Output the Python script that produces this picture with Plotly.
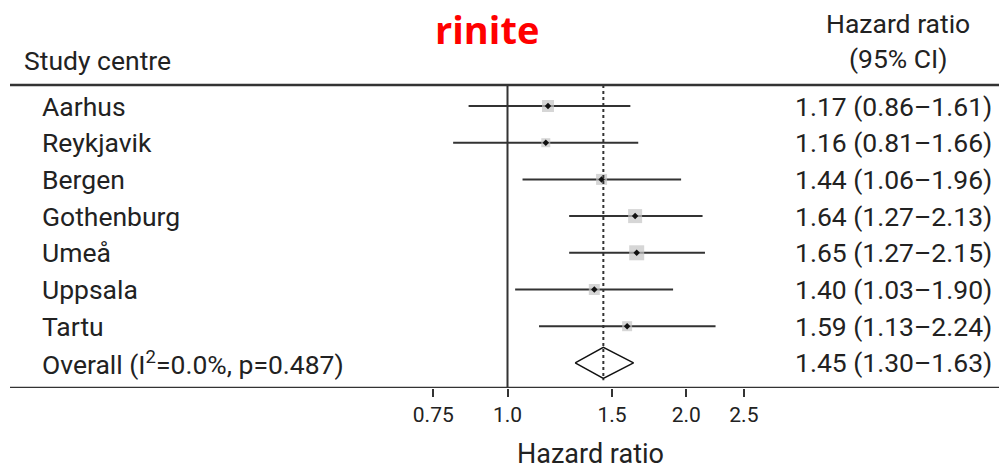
import plotly.graph_objects as go
import math

# ---- data ----
centres = ["Aarhus", "Reykjavik", "Bergen", "Gothenburg", "Umeå", "Uppsala", "Tartu"]
hr = [1.17, 1.16, 1.44, 1.64, 1.65, 1.40, 1.59]
lo = [0.86, 0.81, 1.06, 1.27, 1.27, 1.03, 1.13]
hi = [1.61, 1.66, 1.96, 2.13, 2.15, 1.90, 2.24]
weights = [12, 9, 11, 14, 15, 11, 10]  # relative study weights (box size)
overall_label = "Overall (I<sup>2</sup>=0.0%, p=0.487)"
overall = [1.45, 1.30, 1.63]
tick_vals = [0.75, 1.0, 1.5, 2.0, 2.5]
tick_text = ["0.75", "1.0", "1.5", "2.0", "2.5"]

W, H = 999, 472
PLOT_BOTTOM = 388  # px where the x axis sits
ROW0_PX, ROW_STEP = 106, 36.7
PX_PER_DECADE = 594.0
X_ONE_PX = 507.5

def px_to_row(py):
    return (py - ROW0_PX) / ROW_STEP

def px_to_paper_y(py):
    return 1 - py / PLOT_BOTTOM

n = len(centres)
rows = list(range(n))
ov_row = n

x_range = [-X_ONE_PX / PX_PER_DECADE, (W - X_ONE_PX) / PX_PER_DECADE]
y_range = [px_to_row(PLOT_BOTTOM), px_to_row(0)]

line_col = "#333333"
FONT = "Roboto"

fig = go.Figure()

# CI lines
cx, cy = [], []
for i in rows:
    cx += [lo[i], hi[i], None]
    cy += [i, i, None]
fig.add_trace(go.Scatter(x=cx, y=cy, mode="lines", line=dict(color=line_col, width=2),
                         hoverinfo="skip", showlegend=False))
# weighted boxes
fig.add_trace(go.Scatter(x=hr, y=rows, mode="markers",
                         marker=dict(symbol="square", size=weights, color="#c4c4c4",
                                     line=dict(width=0)),
                         showlegend=False))
# point estimates
fig.add_trace(go.Scatter(x=hr, y=rows, mode="markers",
                         marker=dict(symbol="diamond", size=5, color="#111111"),
                         showlegend=False))

# overall diamond
half = 15.5 / ROW_STEP
fig.add_trace(go.Scatter(x=[overall[1], overall[0], overall[2], overall[0], overall[1]],
                         y=[ov_row, ov_row - half, ov_row, ov_row + half, ov_row],
                         mode="lines", fill="toself", fillcolor="white",
                         line=dict(color="#111111", width=1.5), showlegend=False))

# reference lines
top_row = px_to_row(85)
fig.add_shape(type="line", xref="x", yref="y", x0=1.0, x1=1.0, y0=top_row, y1=px_to_row(PLOT_BOTTOM),
              line=dict(color=line_col, width=2))
fig.add_shape(type="line", xref="x", yref="y", x0=overall[0], x1=overall[0], y0=top_row,
              y1=ov_row + half + 0.05, line=dict(color=line_col, width=2, dash="3px,3px"))
fig.add_shape(type="line", xref="paper", yref="y", x0=10 / W, x1=1, y0=top_row, y1=top_row,
              line=dict(color=line_col, width=2.5))
fig.add_shape(type="line", xref="paper", yref="y", x0=10 / W, x1=1,
              y0=px_to_row(PLOT_BOTTOM), y1=px_to_row(PLOT_BOTTOM),
              line=dict(color=line_col, width=2.5))

anns = []
labels = centres + [overall_label]
ci_text = [f"{hr[i]:.2f} ({lo[i]:.2f}–{hi[i]:.2f})" for i in rows] + \
          [f"{overall[0]:.2f} ({overall[1]:.2f}–{overall[2]:.2f})"]
for i, (lab, ci) in enumerate(zip(labels, ci_text)):
    anns.append(dict(x=40 / W, xref="paper", y=i, yref="y", text=lab, xanchor="left",
                     yanchor="middle", showarrow=False, font=dict(size=26.5, color="#222", family=FONT)))
    anns.append(dict(x=994 / W, xref="paper", y=i, yref="y", text=ci, xanchor="right",
                     yanchor="middle", showarrow=False, font=dict(size=26.5, color="#222", family=FONT)))

anns.append(dict(x=22 / W, xref="paper", y=px_to_paper_y(60), yref="paper", text="Study centre",
                 xanchor="left", yanchor="middle", showarrow=False,
                 font=dict(size=26.5, color="#222", family=FONT)))
anns.append(dict(x=898 / W, xref="paper", y=px_to_paper_y(23), yref="paper", text="Hazard ratio",
                 xanchor="center", yanchor="middle", showarrow=False,
                 font=dict(size=26.5, color="#222", family=FONT)))
anns.append(dict(x=898 / W, xref="paper", y=px_to_paper_y(58), yref="paper", text="(95% CI)",
                 xanchor="center", yanchor="middle", showarrow=False,
                 font=dict(size=26.5, color="#222", family=FONT)))
anns.append(dict(x=590 / W, xref="paper", y=px_to_paper_y(472), yref="paper", text="Hazard ratio",
                 xanchor="center", yanchor="bottom", showarrow=False,
                 font=dict(size=27, color="#222", family=FONT)))
anns.append(dict(x=487 / W, xref="paper", y=px_to_paper_y(29), yref="paper", text="<b>rinite</b>",
                 xanchor="center", yanchor="middle", showarrow=False,
                 font=dict(size=38, color="#ff0000", family="Open Sans")))

fig.update_layout(
    width=W, height=H,
    margin=dict(l=0, r=0, t=0, b=H - PLOT_BOTTOM),
    paper_bgcolor="white", plot_bgcolor="white",
    showlegend=False,
    annotations=anns,
    xaxis=dict(type="log", range=x_range, tickvals=tick_vals, ticktext=tick_text,
               ticks="outside", ticklen=8, tickwidth=2, tickcolor=line_col,
               showgrid=False, zeroline=False, showline=False,
               tickfont=dict(size=21, color="#222", family=FONT), fixedrange=True),
    yaxis=dict(range=y_range, showticklabels=False, showgrid=False, zeroline=False,
               showline=False, ticks="", fixedrange=True),
)

fig.write_html("out.html")
